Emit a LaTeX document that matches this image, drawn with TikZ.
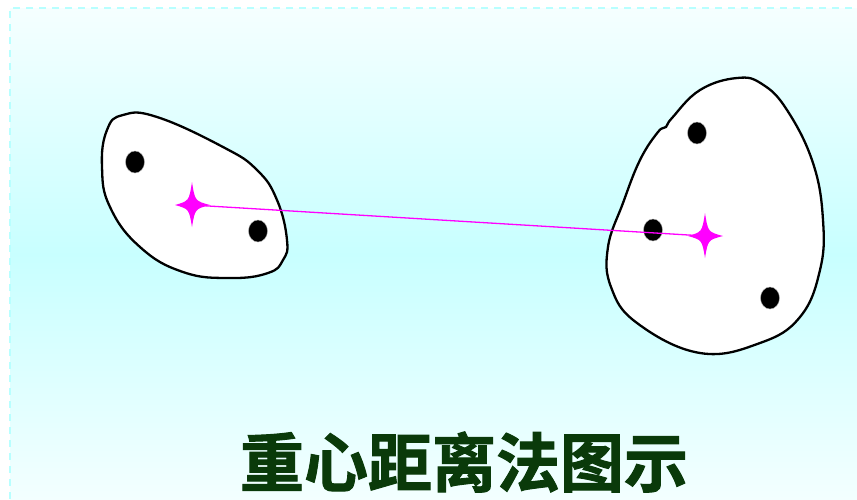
\documentclass[tikz,border=0pt]{standalone}
\usepackage{fontspec}
\newfontfamily\cjk[FakeBold=1.5]{Noto Sans CJK SC Bold}
\definecolor{bgtop}{HTML}{F5FFFF}
\definecolor{bgmid}{HTML}{C8FFFF}
\definecolor{bgbot}{HTML}{F3FFFF}
\definecolor{dashcol}{HTML}{B8FFFF}
\definecolor{titlecol}{HTML}{0A3A0A}
\definecolor{starcol}{HTML}{FF00FF}
\tikzset{
  blob/.style={draw=black, line width=2.3pt, fill=white},
  dot/.style={ellipse, draw=gray!60, line width=0.4pt, fill=black, minimum width=19pt, minimum height=22pt, inner sep=0pt},
  link/.style={draw=starcol, line width=1.3pt},
  sparkle/.pic={
    \fill[starcol] (0,-23) .. controls (3,-4) .. (18,0) .. controls (3,4) .. (0,22)
      .. controls (-3,4) .. (-17,0) .. controls (-3,-4) .. cycle;
  },
  title/.style={font=\cjk\fontsize{64}{70}\selectfont, text=titlecol, inner sep=0pt}
}
\usetikzlibrary{shapes.geometric}
\begin{document}
\begin{tikzpicture}[x=1pt,y=-1pt]
\useasboundingbox (0,0) rectangle (857,499);
\fill[white] (0,0) rectangle (857,499);
\shade[top color=bgtop, bottom color=bgmid] (10,8) rectangle (857,255);
\shade[top color=bgmid, bottom color=bgbot] (10,254) rectangle (857,499);
\draw[dashcol, line width=2pt, dash pattern=on 7pt off 6pt] (10,499) -- (10,8) -- (857,8);
% left cluster
\draw[blob] plot[smooth cycle, tension=0.75] coordinates {
  (123,115) (157,117) (223,147) (257,170) (277,200) (287,240) (283,260)
  (268,273) (230,278) (183,272) (140,247) (110,207) (102,167) (107,130)};
% right cluster
\draw[blob] plot[smooth cycle, tension=0.7] coordinates {
  (737,78) (700,90) (672,118) (666,127) (658,132) (640,160) (623,203) (608,247)
  (611,287) (637,323) (700,353) (760,343) (800,317) (820,270) (823,220)
  (813,163) (787,110) (762,84)};
\node[dot] (a1) at (135,162) {};
\node[dot] (a2) at (258,231) {};
\node[dot] (b1) at (697,133) {};
\node[dot] (b2) at (653,230) {};
\node[dot] (b3) at (770,298) {};
\coordinate (s1) at (192,205);
\coordinate (s2) at (705,236);
\draw[link] (s1) -- (s2);
\pic at (s1) {sparkle};
\pic at (s2) {sparkle};
\node[title] (t) at (464,462) {重心距离法图示};
\end{tikzpicture}
\end{document}
